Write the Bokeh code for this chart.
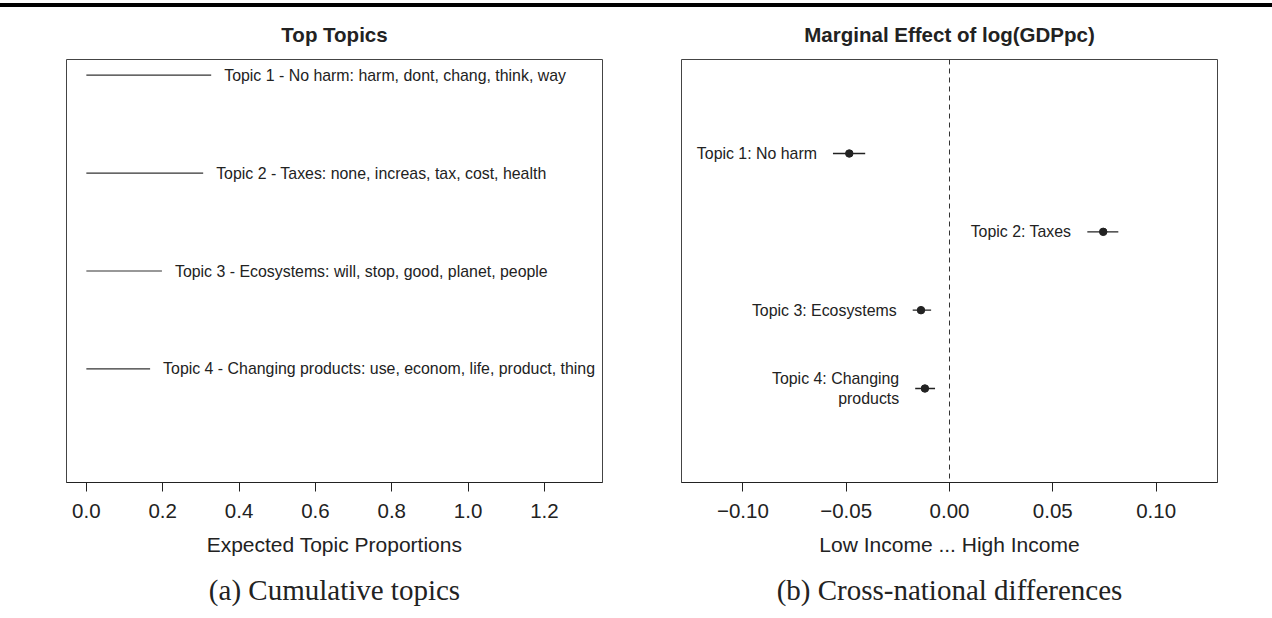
from bokeh.plotting import figure
from bokeh.models import (ColumnDataSource, Range1d, FixedTicker, CustomJSTickFormatter,
                          Title, Span, Spacer)
from bokeh.layouts import row, column
from bokeh.core.properties import value
from bokeh.embed import file_html
from bokeh.resources import INLINE

# ---------------- data: panel (a) ----------------
TOPICS_A = [
    "Topic 1 - No harm: harm, dont, chang, think, way",
    "Topic 2 - Taxes: none, increas, tax, cost, health",
    "Topic 3 - Ecosystems: will, stop, good, planet, people",
    "Topic 4 - Changing products: use, econom, life, product, thing",
]
PROPORTIONS = [0.327, 0.306, 0.198, 0.167]
TOPIC_POS = [4, 3, 2, 1]
TICKS_A = [0.0, 0.2, 0.4, 0.6, 0.8, 1.0, 1.2]
TICK_LABELS_A = ["0.0", "0.2", "0.4", "0.6", "0.8", "1.0", "1.2"]

# ---------------- data: panel (b) ----------------
TOPICS_B = [
    "Topic 1: No harm",
    "Topic 2: Taxes",
    "Topic 3: Ecosystems",
    "Topic 4: Changing\nproducts",
]
EFFECT = [-0.0485, 0.0744, -0.0138, -0.0119]
CI_LOW = [-0.0564, 0.0667, -0.0178, -0.0166]
CI_HIGH = [-0.0408, 0.0817, -0.0089, -0.0070]
TICKS_B = [-0.10, -0.05, 0.0, 0.05, 0.10]
TICK_LABELS_B = ["\u22120.10", "\u22120.05", "0.00", "0.05", "0.10"]

SANS = "Liberation Sans"
SERIF = "Liberation Serif"
INK = "#222222"

FMT_CODE = """
let best = -1, d = 1e9;
for (let i = 0; i < tvals.length; i++) {
  const e = Math.abs(tvals[i] - tick);
  if (e < d) { d = e; best = i; }
}
return d < 1e-9 ? tlabels[best] : "";
"""


def style(p, ticks, labels, xlabel, title, caption):
    p.xgrid.visible = False
    p.ygrid.visible = False
    p.outline_line_color = "#444444"
    p.outline_line_width = 1
    p.background_fill_color = "white"
    p.border_fill_color = "white"
    ax = p.xaxis[0]
    ax.ticker = FixedTicker(ticks=ticks)
    ax.formatter = CustomJSTickFormatter(args=dict(tvals=ticks, tlabels=labels), code=FMT_CODE)
    ax.axis_line_color = INK
    ax.major_tick_line_color = INK
    ax.minor_tick_line_color = None
    ax.major_tick_out = 9
    ax.major_tick_in = 0
    ax.major_label_standoff = 12
    ax.major_label_text_font = SANS
    ax.major_label_text_font_size = "20.5px"
    ax.major_label_text_color = INK
    ax.axis_label = xlabel
    ax.axis_label_standoff = 12
    ax.axis_label_text_font = SANS
    ax.axis_label_text_font_size = "21px"
    ax.axis_label_text_font_style = "normal"
    ax.axis_label_text_color = INK
    p.add_layout(Title(text=title, align="center", text_font=SANS, text_font_size="20.5px",
                       text_font_style="bold", text_color=INK, standoff=27), "above")
    p.add_layout(Title(text=caption, align="center", text_font=SERIF, text_font_size="29px",
                       text_font_style="normal", text_color=INK, standoff=26,
                       text_line_height=1.6), "below")


# ---------------- panel (a) ----------------
src_a = ColumnDataSource(dict(
    start=[0.0 * v for v in PROPORTIONS], prop=PROPORTIONS, pos=TOPIC_POS, label=TOPICS_A))

p1 = figure(width=640, height=611, x_range=Range1d(-0.052, 1.352), y_range=Range1d(-0.16, 4.16),
            output_backend="svg", toolbar_location=None, y_axis_location=None,
            min_border_left=66, min_border_right=38, min_border_top=52, min_border_bottom=136)
p1.segment(x0="start", y0="pos", x1="prop", y1="pos", source=src_a,
           line_color="#333333", line_width=1.2)
p1.text(x="prop", y="pos", text="label", source=src_a, x_offset=13,
        text_align="left", text_baseline="middle", text_font=value(SANS),
        text_font_size="15.9px", text_color=INK)
style(p1, TICKS_A, TICK_LABELS_A, "Expected Topic Proportions", "Top Topics",
      "(a) Cumulative topics")

# ---------------- panel (b) ----------------
src_b = ColumnDataSource(dict(est=EFFECT, lo=CI_LOW, hi=CI_HIGH, pos=TOPIC_POS, label=TOPICS_B))

p2 = figure(width=632, height=611, x_range=Range1d(-0.1297, 0.1297), y_range=Range1d(-0.2, 5.2),
            output_backend="svg", toolbar_location=None, y_axis_location=None,
            min_border_left=41, min_border_right=55, min_border_top=52, min_border_bottom=136)
p2.add_layout(Span(location=0, dimension="height", line_color="#333333", line_width=1,
                   line_dash="5 4"))
p2.segment(x0="lo", y0="pos", x1="hi", y1="pos", source=src_b, line_color=INK, line_width=1.3)
p2.scatter(x="est", y="pos", source=src_b, size=7.5, fill_color=INK, line_color=INK)
p2.text(x="lo", y="pos", text="label", source=src_b, x_offset=-16,
        text_align="right", text_baseline="middle", text_font=value(SANS),
        text_font_size="15.9px", text_color=INK, text_line_height=1.15)
style(p2, TICKS_B, TICK_LABELS_B, "Low Income ... High Income", "Marginal Effect of log(GDPpc)",
      "(b) Cross-national differences")

top_gap = Spacer(width=1272, height=3)
top_rule = Spacer(width=1272, height=4, styles={"background-color": "black"})

layout = column(top_gap, top_rule, row(p1, p2, spacing=0), spacing=0)
open("out.html", "w").write(file_html(layout, INLINE))
